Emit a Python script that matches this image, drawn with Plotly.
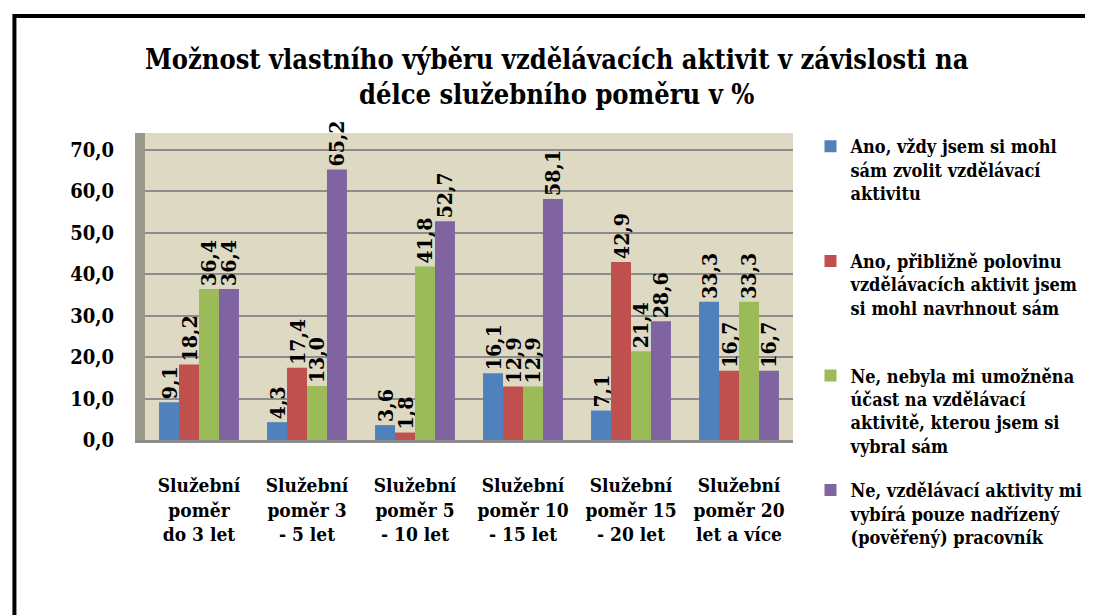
import plotly.graph_objects as go

categories = ["Služební<br>poměr<br>do 3 let", "Služební<br>poměr 3<br>- 5 let", "Služební<br>poměr 5<br>- 10 let",
              "Služební<br>poměr 10<br>- 15 let", "Služební<br>poměr 15<br>- 20 let", "Služební<br>poměr 20<br>let a více"]

series_names = [
    "Ano, vždy jsem si mohl<br>sám zvolit vzdělávací<br>aktivitu<br> ",
    "Ano, přibližně polovinu<br>vzdělávacích aktivit jsem<br>si mohl navrhnout sám<br> ",
    "Ne, nebyla mi umožněna<br>účast na vzdělávací<br>aktivitě, kterou jsem si<br>vybral sám",
    "Ne, vzdělávací aktivity mi<br>vybírá pouze nadřízený<br>(pověřený) pracovník<br> ",
]
vals_ano_vzdy = [9.1, 4.3, 3.6, 16.1, 7.1, 33.3]
vals_ano_polovinu = [18.2, 17.4, 1.8, 12.9, 42.9, 16.7]
vals_ne_neumoznena = [36.4, 13.0, 41.8, 12.9, 21.4, 33.3]
vals_ne_nadrizeny = [36.4, 65.2, 52.7, 58.1, 28.6, 16.7]
series_values = [vals_ano_vzdy, vals_ano_polovinu, vals_ne_neumoznena, vals_ne_nadrizeny]
colors = ["#4F81BD", "#C0504D", "#9BBB59", "#8064A2"]
y_ticks = [0, 10, 20, 30, 40, 50, 60, 70]

SERIF = "DejaVu Serif Condensed"

fig = go.Figure()
for i, (name, vals, col) in enumerate(zip(series_names, series_values, colors)):
    fig.add_trace(go.Bar(
        x=categories, y=vals, name=name, legendgroup=str(i),
        marker=dict(color=col, line=dict(width=0)),
        text=vals, texttemplate="%{y:.1f}", textposition="outside",
        textangle=-90, constraintext="none", cliponaxis=False,
        textfont=dict(family=SERIF, size=21, color="black", weight="bold"),
    ))

fig.update_layout(
    width=1093, height=615,
    separators=", ",
    barmode="group", bargap=0.26, bargroupgap=0.0,
    paper_bgcolor="white", plot_bgcolor="#DDD9C3",
    margin=dict(l=137, r=301, t=125, b=183),
    title=dict(
        text="Možnost vlastního výběru vzdělávacích aktivit v závislosti na<br>délce služebního poměru v %",
        x=0.502, xanchor="center", y=0.901, yanchor="middle",
        font=dict(family=SERIF, size=27, color="black", weight="bold"),
    ),
    xaxis=dict(
        tickfont=dict(family=SERIF, size=19, color="black", weight="bold"),
        showgrid=False, ticks="outside", ticklen=26, tickcolor="rgba(0,0,0,0)",
        showline=True, linecolor="#8C8C8C", linewidth=3,
    ),
    yaxis=dict(
        range=[0, 74], tickvals=y_ticks, tickformat=".1f",
        tickfont=dict(family=SERIF, size=20, color="black", weight="bold"),
        showgrid=True, gridcolor="#8C8C8C", gridwidth=2,
        ticks="outside", ticklen=17, tickcolor="rgba(0,0,0,0)",
        zeroline=False, showline=True, linecolor="#9A988A", linewidth=10,
    ),
    legend=dict(
        x=1.027, xanchor="left", y=1.016, yanchor="top",
        font=dict(family=SERIF, size=18, color="black", weight="bold"),
        tracegroupgap=18, valign="top", bgcolor="rgba(0,0,0,0)",
        itemwidth=30, maxheight=600,
    ),
    shapes=[dict(
        type="rect", xref="paper", yref="paper",
        x0=-0.2015, x1=2.0, y0=-2.0, y1=1.381,
        line=dict(color="black", width=4), fillcolor="rgba(0,0,0,0)", layer="above",
    )],
)

fig.write_html("out.html")
